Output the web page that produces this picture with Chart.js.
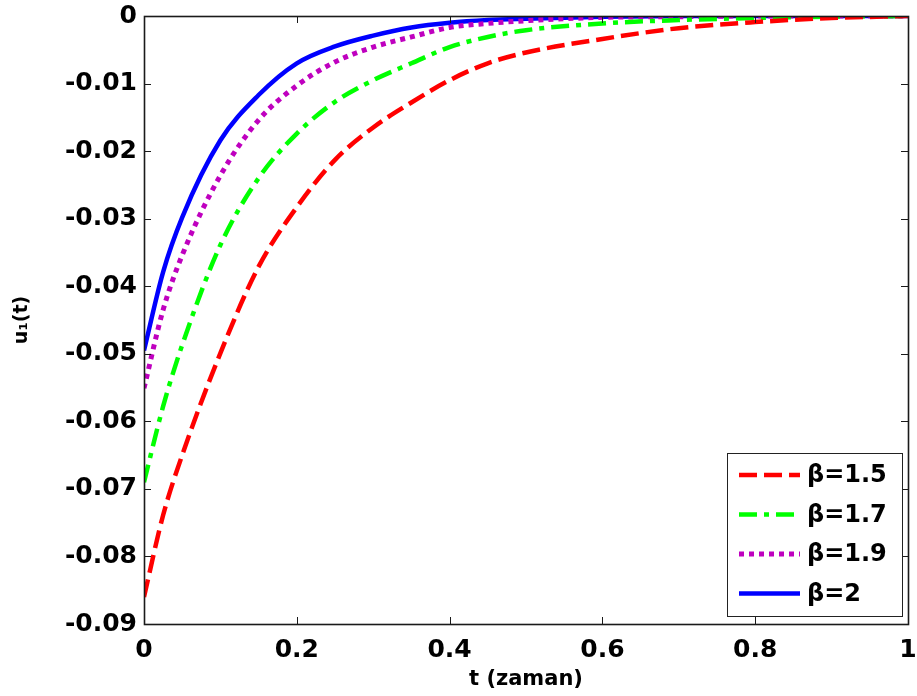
<!DOCTYPE html>
<html>
<head>
<meta charset="utf-8">
<script src="https://cdn.jsdelivr.net/npm/chart.js@4.4.1/dist/chart.umd.min.js"></script>
<style>
  html, body { margin: 0; padding: 0; background: #fff; }
  #wrap { width: 917px; height: 696px; }
</style>
</head>
<body>
<div id="wrap"><canvas id="myChart" width="917" height="696"></canvas></div>
<script>
// time values (t)
var tValues = [0, 0.025, 0.05, 0.1, 0.15, 0.2, 0.25, 0.3, 0.35, 0.4, 0.45, 0.5, 0.6, 0.7, 0.8, 0.9, 1.0];

// u1(t) for each beta
var beta15 = [-0.0860, -0.0739, -0.0650, -0.0499, -0.0371, -0.0283, -0.0213, -0.0165, -0.0128, -0.0095, -0.0070, -0.0054, -0.0034, -0.0018, -0.0009, -0.0003, 0];
var beta17 = [-0.0690, -0.0578, -0.0487, -0.0339, -0.0240, -0.0174, -0.0127, -0.0095, -0.0070, -0.0046, -0.0031, -0.0021, -0.0011, -0.0006, -0.0003, -0.0001, 0];
var beta19 = [-0.0551, -0.0435, -0.0354, -0.0236, -0.0154, -0.0103, -0.0068, -0.0046, -0.0031, -0.0017, -0.0011, -0.0007, -0.0002, -0.0001, 0, 0, 0];
var beta20 = [-0.0495, -0.0379, -0.0298, -0.0184, -0.0117, -0.0070, -0.0045, -0.0029, -0.0017, -0.0010, -0.0006, -0.0004, -0.0001, 0, 0, 0, 0];

var seriesLabels = ['\u03b2=1.5', '\u03b2=1.7', '\u03b2=1.9', '\u03b2=2'];

var FONT = 'DejaVu Sans';

function toPoints(arr) {
    return tValues.map(function (t, i) { return { x: t, y: arr[i] }; });
}

function makeSet(label, arr, color, dash, width) {
    return {
        label: label,
        data: toPoints(arr),
        borderColor: color,
        borderWidth: width,
        borderDash: dash,
        fill: false,
        pointRadius: 0,
        cubicInterpolationMode: 'monotone'
    };
}

/**
 * frame around the plot and inward ticks on all four sides (like matlab)
 */
var frameTicks = {
    id: 'frameTicks',
    afterDatasetsDraw: function (chart) {
        var c = chart.ctx, a = chart.chartArea;
        var xs = chart.scales.x, ys = chart.scales.y;
        var len = 7;
        c.save();
        c.strokeStyle = '#1a1a1a';
        c.lineWidth = 1;
        c.beginPath();
        xs.ticks.forEach(function (t) {
            var px = Math.round(xs.getPixelForValue(t.value)) + 0.5;
            c.moveTo(px, a.bottom); c.lineTo(px, a.bottom - len);
            c.moveTo(px, a.top); c.lineTo(px, a.top + len);
        });
        ys.ticks.forEach(function (t) {
            var py = Math.round(ys.getPixelForValue(t.value)) + 0.5;
            c.moveTo(a.left, py); c.lineTo(a.left + len, py);
            c.moveTo(a.right, py); c.lineTo(a.right - len, py);
        });
        c.stroke();
        c.lineWidth = 1.6;
        c.strokeRect(a.left + 0.5, a.top + 0.5, a.right - a.left, a.bottom - a.top);
        c.restore();
    }
};

/**
 * legend box in the lower right corner of the plot, showing the dash styles
 */
var boxLegend = {
    id: 'boxLegend',
    afterDraw: function (chart) {
        var c = chart.ctx, a = chart.chartArea;
        var w = 175, h = 163;
        var x0 = a.right - 181, y0 = a.bottom - 171;
        c.save();
        c.fillStyle = '#fff';
        c.fillRect(x0, y0, w, h);
        c.strokeStyle = '#222';
        c.lineWidth = 1;
        c.strokeRect(x0 + 0.5, y0 + 0.5, w, h);
        c.font = 'bold 24px "' + FONT + '"';
        c.textBaseline = 'middle';
        c.textAlign = 'left';
        chart.data.datasets.forEach(function (ds, i) {
            var yy = y0 + 22 + i * 39.5;
            c.strokeStyle = ds.borderColor;
            c.lineWidth = ds.borderWidth;
            c.setLineDash(ds.borderDash || []);
            c.beginPath();
            c.moveTo(x0 + 12, yy);
            c.lineTo(x0 + 73, yy);
            c.stroke();
            c.setLineDash([]);
            c.fillStyle = '#000';
            c.fillText(ds.label, x0 + 80, yy + 1);
        });
        c.restore();
    }
};

var gr_config = {
    type: 'line',
    data: {
        datasets: [
            makeSet(seriesLabels[0], beta15, '#ff0000', [18, 7], 4.5),
            makeSet(seriesLabels[1], beta17, '#00ff00', [18, 7, 5, 7], 4.5),
            makeSet(seriesLabels[2], beta19, '#bf00bf', [5, 5], 5),
            makeSet(seriesLabels[3], beta20, '#0000ff', [], 4.5)
        ]
    },
    options: {
        responsive: false,
        animation: false,
        layout: { padding: { left: 0, top: 16, right: 9, bottom: 0 } },
        plugins: {
            legend: { display: false },
            tooltip: { enabled: false }
        },
        scales: {
            x: {
                type: 'linear',
                min: 0,
                max: 1,
                grid: { display: false, drawTicks: false },
                border: { display: false },
                ticks: {
                    stepSize: 0.2,
                    padding: 11,
                    color: '#000',
                    font: { family: FONT, size: 25, weight: 'bold' },
                    callback: function (v) { return String(+v.toFixed(1)); }
                },
                title: {
                    display: true,
                    text: 't (zaman)',
                    color: '#000',
                    padding: { top: 0, bottom: 4 },
                    font: { family: FONT, size: 21, weight: 'bold' }
                },
                afterFit: function (scale) {
                    scale.height = 72;
                    scale.paddingLeft = 0;
                    scale.paddingRight = 0;
                }
            },
            y: {
                min: -0.09,
                max: 0,
                grid: { display: false, drawTicks: false },
                border: { display: false },
                ticks: {
                    stepSize: 0.01,
                    padding: 7,
                    color: '#000',
                    font: { family: FONT, size: 25, weight: 'bold' },
                    callback: function (v) { return v === 0 ? '0' : v.toFixed(2); }
                },
                title: {
                    display: true,
                    text: 'u\u2081(t)',
                    color: '#000',
                    padding: { top: 11, bottom: 0 },
                    font: { family: FONT, size: 19, weight: 'bold' }
                },
                afterFit: function (scale) {
                    scale.width = 144;
                    scale.paddingTop = 0;
                    scale.paddingBottom = 0;
                }
            }
        }
    },
    plugins: [frameTicks, boxLegend]
};

var ctx = document.getElementById('myChart');
var myChart = new Chart(ctx, gr_config);
</script>
</body>
</html>
